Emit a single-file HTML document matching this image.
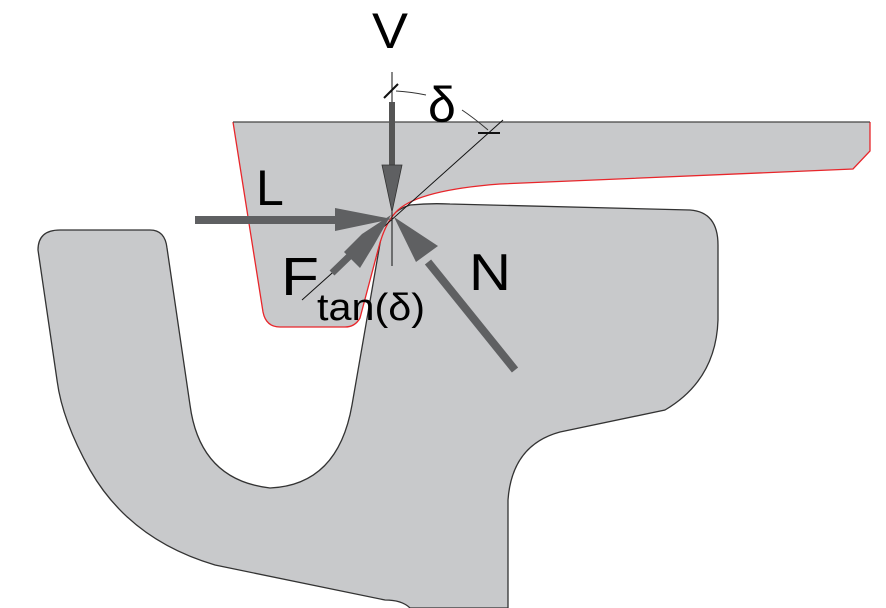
<!DOCTYPE html>
<html><head><style>
html,body{margin:0;padding:0;background:#fff;width:886px;height:608px;overflow:hidden}
svg{display:block}
text{font-family:"Liberation Sans","DejaVu Sans",sans-serif;fill:#000}
</style></head><body>
<svg width="886" height="608" viewBox="0 0 886 608" xmlns="http://www.w3.org/2000/svg">
<!-- rail -->
<path d="M38,250 Q38,230 60,230 L150,230 Q165,230 167,248 L190,405 Q200,480 270,488 Q338,485 352,405 L382,232 Q388,212 410,205 Q430,203 450,204 L690,210 Q718,212 718,245 L718,320 Q716,380 665,410 L560,432 Q512,445 508,500 L508,608 L410,608 Q402,600 385,600 L215,565 Q130,540 90,470 Q62,420 57,380 Z" fill="#c8c9cb" stroke="#333" stroke-width="1.3"/>
<!-- wheel -->
<path d="M233,122 L870,122 L870,151 L853,169 L500,184 Q420,190 398,210 Q385,222 378,250 L360,318 Q355,327 345,327 L280,327 Q266,327 263,312 L233,122 Z" fill="#c8c9cb" stroke="none"/>
<path d="M233,122 L263,312 Q266,327 280,327 L345,327 Q355,327 360,318 L378,250 Q385,222 398,210 Q420,190 500,184 L853,169 L870,151 L870,122" fill="none" stroke="#e8262b" stroke-width="1.3"/>
<line x1="233" y1="122" x2="870" y2="122" stroke="#444" stroke-width="1.3"/>
<!-- thin construction lines -->
<line x1="392" y1="72" x2="392" y2="266" stroke="#111" stroke-width="1"/>
<line x1="302" y1="300" x2="503" y2="120" stroke="#111" stroke-width="1"/>
<line x1="384" y1="98" x2="398" y2="84" stroke="#111" stroke-width="2"/>
<line x1="478" y1="133" x2="500" y2="133" stroke="#111" stroke-width="2"/>
<path d="M396,91 Q412,92 426,95" fill="none" stroke="#333" stroke-width="1"/>
<path d="M462,110 Q474,118 488,130" fill="none" stroke="#333" stroke-width="1"/>
<!-- V arrow -->
<rect x="389" y="102" width="6" height="66" fill="#555"/>
<polygon points="382,165 402,165 392,212" fill="#5f6062" stroke="#333" stroke-width="0.8"/>
<!-- L arrow -->
<rect x="195" y="216" width="152" height="8" fill="#5f6062"/>
<polygon points="335,208 392,219 335,231" fill="#5f6062"/>
<!-- F arrow -->
<line x1="332" y1="273" x2="362" y2="244" stroke="#5f6062" stroke-width="7"/>
<polygon points="344,252 362,234 391,215 374,245 360,268" fill="#5f6062"/>
<!-- N arrow -->
<line x1="515" y1="370" x2="428" y2="262" stroke="#5f6062" stroke-width="8"/>
<polygon points="394,217 438,246 416,262" fill="#5f6062"/>
<!-- labels -->
<text x="372" y="48" font-size="50" textLength="36" lengthAdjust="spacingAndGlyphs">V</text>
<text x="428" y="122" font-size="50">δ</text>
<text x="256" y="205" font-size="50">L</text>
<text x="281" y="295" font-size="54" textLength="38" lengthAdjust="spacingAndGlyphs">F</text>
<text x="317" y="320" font-size="38" textLength="108" lengthAdjust="spacingAndGlyphs">tan(δ)</text>
<text x="469" y="290" font-size="52" textLength="42" lengthAdjust="spacingAndGlyphs">N</text>
</svg>
</body></html>
